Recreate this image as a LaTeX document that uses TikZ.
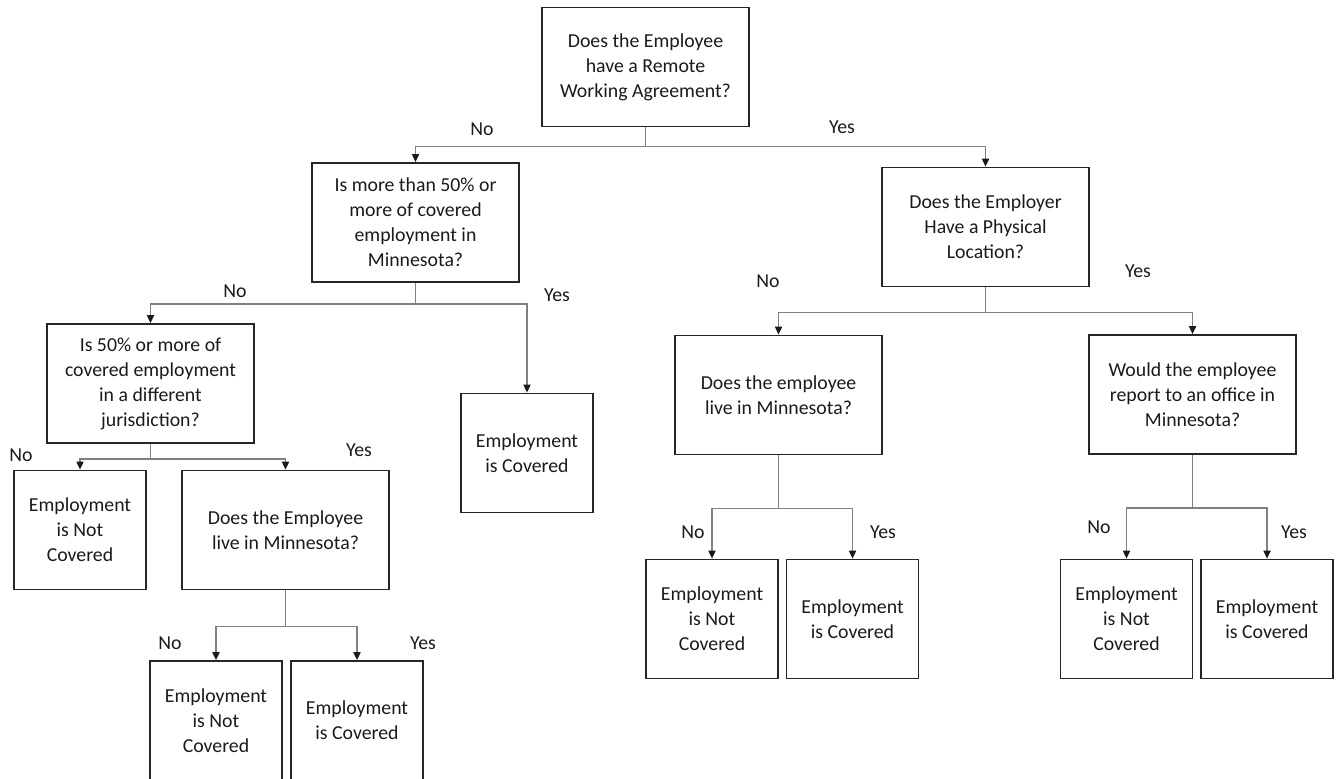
\documentclass[tikz,border=0pt]{standalone}
\usepackage{fontspec}
\setmainfont{Carlito}
\usepackage{tikz}
\usetikzlibrary{arrows.meta}
\definecolor{flowInk}{HTML}{1A1A1A}
\definecolor{flowEdge}{HTML}{262626}
\definecolor{flowLink}{HTML}{808080}

\begin{document}
\begin{tikzpicture}[x=0.5pt, y=-0.5pt,
    font=\fontsize{9.9}{12.5}\selectfont, text=flowInk,
    box/.style={draw=flowEdge, line width=0.9pt, align=center,
                inner sep=0pt, minimum height=59.5pt},
    qbox/.style={box, minimum width=103.5pt},
    rbox/.style={box, minimum width=66pt},
    bus/.style={draw=flowLink, line width=0.65pt},
    link/.style={bus, -{Triangle[length=4pt, width=3.6pt, color=flowInk]}},
    tag/.style={inner sep=0pt}]
  \useasboundingbox (0,0) rectangle (1336,779);

  % questions
  \node[qbox] (root)      at (645.5,67)    {Does the Employee\\have a Remote\\Working Agreement?};
  \node[qbox] (mnhalf)    at (415.5,222.5) {Is more than 50\% or\\more of covered\\employment in\\Minnesota?};
  \node[qbox] (physical)  at (985.5,227)   {Does the Employer\\Have a Physical\\Location?};
  \node[qbox] (elsewhere) at (150.5,383.5) {Is 50\% or more of\\covered employment\\in a different\\jurisdiction?};
  \node[qbox] (liveA)     at (778.5,395)   {Does the employee\\live in Minnesota?};
  \node[qbox] (office)    at (1192.5,394.5) {Would the employee\\report to an office in\\Minnesota?};
  \node[qbox] (liveB)     at (285.5,530)   {Does the Employee\\live in Minnesota?};

  % outcomes
  \node[rbox] (covA) at (527,453)    {Employment\\is Covered};
  \node[rbox] (notA) at (80,530)     {Employment\\is Not\\Covered};
  \node[rbox] (notB) at (216,720.5)  {Employment\\is Not\\Covered};
  \node[rbox] (covB) at (357,720.5)  {Employment\\is Covered};
  \node[rbox] (notC) at (712,619)    {Employment\\is Not\\Covered};
  \node[rbox] (covC) at (852.5,619)  {Employment\\is Covered};
  \node[rbox] (notD) at (1126.5,619) {Employment\\is Not\\Covered};
  \node[rbox] (covD) at (1267,619)   {Employment\\is Covered};

  % connectors
  \draw[bus] (root.south) -- ++(0,19) coordinate (rootJ);
  \draw[link] (rootJ) -| (mnhalf.north);
  \draw[link] (rootJ) -| (physical.north);

  \draw[bus] (mnhalf.south) -- ++(0,21) coordinate (mnhalfJ);
  \draw[link] (mnhalfJ) -| (elsewhere.north);
  \draw[link] (mnhalfJ) -| (covA.north);

  \draw[bus] (elsewhere.south) -- ++(0,15) coordinate (elsewhereJ);
  \draw[link] (elsewhereJ) -| (notA.north);
  \draw[link] (elsewhereJ) -| (liveB.north);

  \draw[bus] (liveB.south) -- ++(0,36) coordinate (liveBJ);
  \draw[link] (liveBJ) -| (notB.north);
  \draw[link] (liveBJ) -| (covB.north);

  \draw[bus] (physical.south) -- ++(0,25) coordinate (physicalJ);
  \draw[link] (physicalJ) -| (liveA.north);
  \draw[link] (physicalJ) -| (office.north);

  \draw[bus] (liveA.south) -- ++(0,53) coordinate (liveAJ);
  \draw[link] (liveAJ) -| (notC.north);
  \draw[link] (liveAJ) -| (covC.north);

  \draw[bus] (office.south) -- ++(0,53) coordinate (officeJ);
  \draw[link] (officeJ) -| (notD.north);
  \draw[link] (officeJ) -| (covD.north);

  % answers
  \node[tag] (rootNo)       at (482,129)  {No};
  \node[tag] (rootYes)      at (842,127)  {Yes};
  \node[tag] (mnhalfNo)     at (235,291)  {No};
  \node[tag] (mnhalfYes)    at (557,295)  {Yes};
  \node[tag] (elsewhereNo)  at (21,455)   {No};
  \node[tag] (elsewhereYes) at (359,450)  {Yes};
  \node[tag] (liveBNo)      at (170,643)  {No};
  \node[tag] (liveBYes)     at (423,643)  {Yes};
  \node[tag] (physicalNo)   at (768,281)  {No};
  \node[tag] (physicalYes)  at (1138,271) {Yes};
  \node[tag] (liveANo)      at (693,532)  {No};
  \node[tag] (liveAYes)     at (883,532)  {Yes};
  \node[tag] (officeNo)     at (1099,527) {No};
  \node[tag] (officeYes)    at (1294,532) {Yes};
\end{tikzpicture}
\end{document}
